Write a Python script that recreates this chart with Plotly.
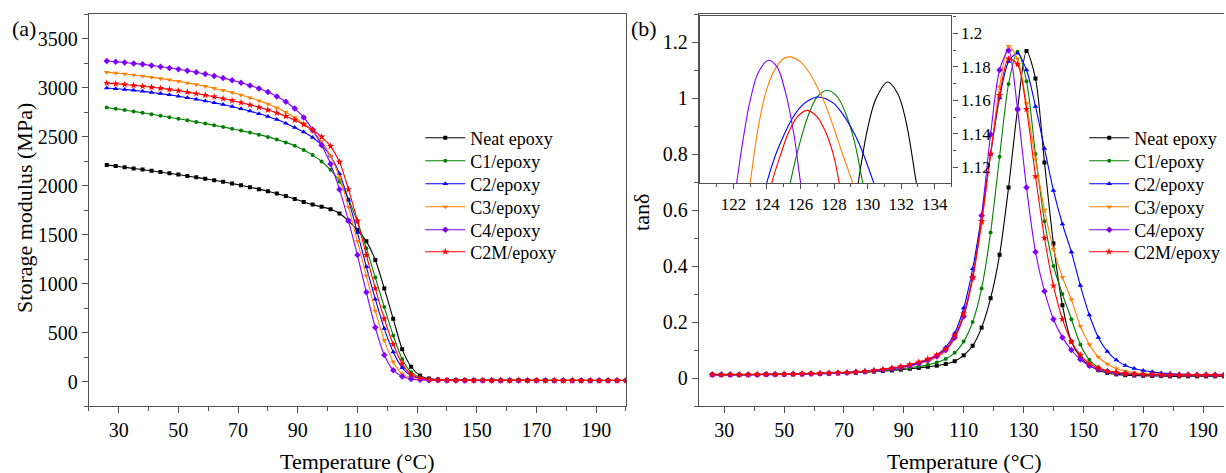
import plotly.graph_objects as go

W, H = 1226, 473
FONT = "Liberation Serif"

# temperature grid (°C)
temp = [26, 29, 32, 35, 38, 41, 44, 47, 50, 53,
        56, 59, 62, 65, 68, 71, 74, 77, 80, 83,
        86, 89, 92, 95, 98, 101, 104, 107, 110, 113,
        116, 119, 122, 125, 128, 131, 134, 137, 140, 143,
        146, 149, 152, 155, 158, 161, 164, 167, 170, 173,
        176, 179, 182, 185, 188, 191, 194, 197, 200]

# storage modulus (MPa)
storage_neat = [2210, 2198, 2186, 2174, 2162, 2150, 2137, 2124, 2111, 2097,
                2083, 2068, 2053, 2037, 2020, 2002, 1983, 1963, 1942, 1918,
                1892, 1863, 1832, 1805, 1782, 1757, 1715, 1640, 1545, 1430,
                1240, 950, 640, 330, 150, 60, 30, 20, 16, 15,
                14, 14, 13, 13, 13, 12, 12, 12, 12, 12,
                11, 11, 11, 11, 11, 11, 11, 11, 11]
storage_c1 = [2795, 2783, 2770, 2756, 2742, 2727, 2712, 2697, 2681, 2665,
              2649, 2632, 2615, 2597, 2579, 2560, 2540, 2519, 2496, 2470,
              2440, 2405, 2362, 2310, 2245, 2160, 2040, 1860, 1630, 1360,
              1060, 760, 470, 230, 95, 42, 24, 18, 15, 14,
              13, 13, 12, 12, 12, 12, 11, 11, 11, 11,
              11, 10, 10, 10, 10, 10, 10, 10, 10]
storage_c2 = [2995, 2988, 2980, 2971, 2961, 2950, 2938, 2925, 2911, 2896,
              2880, 2863, 2845, 2826, 2805, 2783, 2759, 2733, 2705, 2673,
              2636, 2593, 2545, 2490, 2415, 2300, 2120, 1850, 1520, 1170,
              840, 540, 300, 140, 60, 30, 20, 16, 14, 13,
              12, 12, 12, 11, 11, 11, 11, 11, 10, 10,
              10, 10, 10, 10, 10, 10, 10, 10, 10]
storage_c3 = [3155, 3147, 3138, 3128, 3117, 3105, 3092, 3078, 3063, 3047,
              3030, 3012, 2992, 2971, 2948, 2923, 2896, 2866, 2832, 2793,
              2748, 2695, 2630, 2550, 2450, 2300, 2080, 1780, 1430, 1080,
              720, 420, 200, 80, 35, 20, 15, 13, 12, 12,
              11, 11, 11, 11, 10, 10, 10, 10, 10, 10,
              10, 10, 10, 10, 10, 10, 10, 10, 10]
storage_c4 = [3270, 3263, 3255, 3246, 3236, 3225, 3213, 3200, 3186, 3171,
              3155, 3137, 3118, 3097, 3074, 3049, 3021, 2990, 2953, 2908,
              2855, 2785, 2695, 2570, 2410, 2220, 1960, 1640, 1290, 910,
              550, 270, 115, 50, 25, 17, 14, 12, 11, 11,
              11, 10, 10, 10, 10, 10, 10, 10, 10, 10,
              10, 10, 10, 10, 10, 10, 10, 10, 10]
storage_c2m = [3045, 3038, 3030, 3022, 3013, 3003, 2992, 2980, 2967, 2953,
               2938, 2922, 2905, 2887, 2867, 2846, 2823, 2798, 2771, 2741,
               2707, 2668, 2622, 2567, 2497, 2400, 2240, 1960, 1640, 1290,
               950, 640, 380, 180, 75, 35, 22, 17, 14, 13,
               12, 12, 12, 11, 11, 11, 11, 11, 11, 10,
               10, 10, 10, 10, 10, 10, 10, 10, 10]

# tan delta
tan_neat = [.012, .012, .012, .012, .012, .012, .013, .013, .013, .014,
            .014, .015, .015, .016, .017, .018, .019, .021, .023, .025,
            .027, .030, .033, .036, .040, .044, .050, .060, .081, .115,
            .180, .285, .440, .680, .960, 1.168, 1.070, .770, .480, .260,
            .130, .075, .045, .028, .018, .013, .010, .009, .008, .007,
            .007, .006, .006, .006, .006, .006, .006, .006, .006]
tan_c1 = [.013, .013, .013, .013, .013, .013, .014, .014, .014, .015,
          .015, .016, .016, .017, .018, .019, .020, .022, .024, .027,
          .030, .033, .037, .041, .047, .055, .068, .090, .130, .200,
          .320, .520, .790, 1.050, 1.165, 1.060, .800, .560, .400, .300,
          .210, .120, .065, .038, .025, .018, .014, .012, .011, .010,
          .010, .010, .010, .010, .010, .010, .010, .010, .010]
tan_c2 = [.011, .011, .011, .011, .011, .012, .012, .012, .013, .013,
          .014, .015, .016, .017, .018, .020, .022, .024, .027, .030,
          .034, .039, .046, .055, .066, .082, .110, .160, .250, .390,
          .580, .800, 1.000, 1.130, 1.160, 1.100, .970, .820, .670, .550,
          .450, .330, .225, .145, .095, .064, .045, .034, .027, .022,
          .018, .016, .014, .013, .012, .012, .011, .011, .011]
tan_c3 = [.012, .012, .012, .012, .012, .012, .013, .013, .013, .014,
          .014, .015, .016, .017, .018, .019, .021, .023, .026, .029,
          .032, .036, .042, .050, .060, .074, .096, .140, .220, .350,
          .550, .800, 1.040, 1.185, 1.140, .980, .780, .600, .460, .360,
          .280, .185, .120, .075, .050, .034, .025, .019, .016, .014,
          .013, .012, .012, .012, .011, .011, .011, .011, .011]
tan_c4 = [.012, .012, .012, .012, .012, .012, .013, .013, .013, .014,
          .014, .015, .016, .017, .018, .019, .021, .023, .026, .029,
          .033, .038, .044, .052, .063, .078, .100, .145, .220, .360,
          .580, .870, 1.100, 1.170, .960, .680, .450, .310, .210, .145,
          .100, .066, .044, .031, .023, .018, .015, .013, .012, .012,
          .011, .011, .011, .011, .011, .011, .011, .011, .011]
tan_c2m = [.012, .012, .012, .012, .012, .013, .013, .013, .014, .014,
           .015, .016, .017, .018, .019, .020, .022, .024, .027, .031,
           .036, .041, .048, .057, .068, .082, .105, .150, .230, .360,
           .560, .800, 1.010, 1.140, 1.120, .960, .720, .500, .330, .210,
           .130, .082, .052, .035, .025, .020, .016, .014, .013, .012,
           .012, .011, .011, .011, .011, .011, .011, .011, .011]

# inset: tan delta peak tops
ins_t_neat = [129.3, 129.45, 130.0, 130.5, 131.2, 131.8, 132.3, 132.9, 133.1]
ins_neat = [1.100, 1.111, 1.143, 1.161, 1.171, 1.164, 1.147, 1.111, 1.100]
ins_t_c1 = [125.2, 125.4, 126.0, 126.5, 127.0, 127.6, 128.2, 128.7, 129.2, 129.7, 129.9]
ins_c1 = [1.100, 1.111, 1.136, 1.152, 1.162, 1.166, 1.162, 1.152, 1.136, 1.111, 1.100]
ins_t_c2 = [123.8, 124.0, 124.5, 125.0, 125.5, 126.0, 126.5, 127.0, 127.5, 128.0,
            128.5, 129.0, 129.5, 130.0, 130.35, 130.6]
ins_c2 = [1.102, 1.111, 1.127, 1.139, 1.149, 1.156, 1.160, 1.162, 1.161, 1.158,
          1.152, 1.144, 1.134, 1.121, 1.111, 1.103]
ins_t_c3 = [122.8, 123.0, 123.5, 124.0, 124.5, 125.0, 125.4, 126.0, 126.5, 127.0,
            127.5, 128.0, 128.5, 129.1, 129.3]
ins_c3 = [1.100, 1.111, 1.145, 1.167, 1.179, 1.185, 1.186, 1.183, 1.177, 1.168,
          1.157, 1.143, 1.128, 1.111, 1.104]
ins_t_c4 = [122.0, 122.2, 122.6, 123.0, 123.5, 124.1, 124.6, 125.1, 125.6, 126.0, 126.2]
ins_c4 = [1.098, 1.111, 1.138, 1.160, 1.177, 1.184, 1.180, 1.165, 1.140, 1.111, 1.098]
ins_t_c2m = [124.1, 124.3, 124.8, 125.3, 125.8, 126.4, 127.0, 127.5, 128.0, 128.3, 128.5]
ins_c2m = [1.100, 1.111, 1.127, 1.141, 1.150, 1.154, 1.150, 1.141, 1.126, 1.111, 1.102]

names = ["Neat epoxy", "C1/epoxy", "C2/epoxy", "C3/epoxy", "C4/epoxy", "C2M/epoxy"]
colors = ["#000000", "#008000", "#0000ff", "#ff8000", "#8000ff", "#ff0000"]
symbols = ["square", "circle", "triangle-up", "triangle-down", "diamond", "star"]
msizes = [4, 4, 5, 5, 5, 5.5]

storage = [storage_neat, storage_c1, storage_c2, storage_c3, storage_c4, storage_c2m]
tand = [tan_neat, tan_c1, tan_c2, tan_c3, tan_c4, tan_c2m]
ins_t = [ins_t_neat, ins_t_c1, ins_t_c2, ins_t_c3, ins_t_c4, ins_t_c2m]
ins_v = [ins_neat, ins_c1, ins_c2, ins_c3, ins_c4, ins_c2m]


def px(x):
    return x / W


def py(y):
    return 1 - y / H


fig = go.Figure()

# one legend per entry so the row spacing can match the original
row_y = [138, 161, 184, 207, 230, 252]
legends = {}
for i in range(6):
    line = dict(color=colors[i], width=1.1, shape="spline", smoothing=0.8)
    marker = dict(symbol=symbols[i], size=msizes[i], color=colors[i], line=dict(width=0))
    la = "legend" if i == 0 else f"legend{i + 1}"
    lb = f"legend{i + 7}"
    fig.add_trace(go.Scatter(x=temp, y=storage[i], name=names[i], mode="lines+markers",
                             line=line, marker=marker, xaxis="x", yaxis="y", legend=la))
    fig.add_trace(go.Scatter(x=temp, y=tand[i], name=names[i], mode="lines+markers",
                             line=line, marker=marker, xaxis="x2", yaxis="y2", legend=lb))
    fig.add_trace(go.Scatter(x=ins_t[i], y=ins_v[i], mode="lines", showlegend=False,
                             line=dict(color=colors[i], width=1.1, shape="spline"),
                             xaxis="x3", yaxis="y3"))
    for key, lx in ((la, 421), (lb, 1086)):
        legends[key] = dict(x=px(lx), y=py(row_y[i]), xanchor="left", yanchor="middle",
                            font=dict(family=FONT, size=18, color="black"),
                            bgcolor="rgba(0,0,0,0)", itemwidth=40)

axcol = "#505050"
tickfont = dict(family=FONT, size=20, color="black")
common = dict(showline=True, linecolor=axcol, linewidth=1.3, ticks="outside",
              ticklen=6, tickwidth=1.2, tickcolor=axcol, showgrid=False,
              zeroline=False, tickfont=tickfont)

fig.update_layout(
    width=W, height=H,
    margin=dict(l=0, r=0, t=0, b=0),
    paper_bgcolor="white", plot_bgcolor="white",
    font=dict(family=FONT, color="black"),
    xaxis=dict(domain=[px(89), px(627)], range=[20, 200], anchor="y", mirror=True,
               tick0=30, dtick=20,
               minor=dict(ticks="outside", ticklen=4, tick0=20, dtick=10, tickcolor=axcol),
               **common),
    yaxis=dict(domain=[py(406), py(14)], range=[-250, 3750], anchor="x", mirror=True,
               tick0=0, dtick=500,
               minor=dict(ticks="outside", ticklen=4, tick0=-250, dtick=250, tickcolor=axcol),
               **common),
    xaxis2=dict(domain=[px(700), 1.0], range=[21.5, 197], anchor="y2", mirror=True,
                tick0=30, dtick=20,
                minor=dict(ticks="outside", ticklen=4, tick0=20, dtick=10, tickcolor=axcol),
                **common),
    yaxis2=dict(domain=[py(406), py(14)], range=[-0.1, 1.3], anchor="x2",
                tick0=0, dtick=0.2,
                minor=dict(ticks="outside", ticklen=4, tick0=-0.1, dtick=0.1, tickcolor=axcol),
                **common),
    xaxis3=dict(domain=[px(701), px(953)], range=[120, 135], anchor="y3", mirror=True,
                showline=True, linecolor=axcol, linewidth=1.3, ticks="outside",
                ticklen=5, tickwidth=1.2, tickcolor=axcol, showgrid=False, zeroline=False,
                tickvals=[122, 124, 126, 128, 130, 132, 134],
                minor=dict(ticks="outside", ticklen=3,
                           tickvals=[121, 123, 125, 127, 129, 131, 133, 135], tickcolor=axcol),
                tickfont=dict(family=FONT, size=17, color="black")),
    yaxis3=dict(domain=[py(183), py(16)], range=[1.1105, 1.2105], anchor="x3", side="right",
                mirror=True, showline=True, linecolor=axcol, linewidth=1.3, ticks="outside",
                ticklen=5, tickwidth=1.2, tickcolor=axcol, showgrid=False, zeroline=False,
                tickvals=[1.12, 1.14, 1.16, 1.18, 1.2],
                ticktext=["1.12", "1.14", "1.16", "1.18", "1.2"],
                minor=dict(ticks="outside", ticklen=3, tickvals=[1.13, 1.15, 1.17, 1.19, 1.21],
                           tickcolor=axcol),
                tickfont=dict(family=FONT, size=17, color="black")),
    **legends,
)

ann = [
    dict(text="(a)", x=px(24), y=py(28)),
    dict(text="(b)", x=px(645), y=py(28)),
    dict(text="Storage modulus (MPa)", x=px(24), y=py(208), textangle=-90),
    dict(text="tanδ", x=px(643), y=py(212), textangle=-90),
    dict(text="Temperature (°C)", x=px(358), y=py(461)),
    dict(text="Temperature (°C)", x=px(966), y=py(461)),
]
for a in ann:
    fig.add_annotation(xref="paper", yref="paper", showarrow=False,
                       xanchor="center", yanchor="middle",
                       font=dict(family=FONT, size=22, color="black"), **a)

fig.write_html("out.html", config={"displayModeBar": False},
               post_script="document.body.style.margin='0px';")
